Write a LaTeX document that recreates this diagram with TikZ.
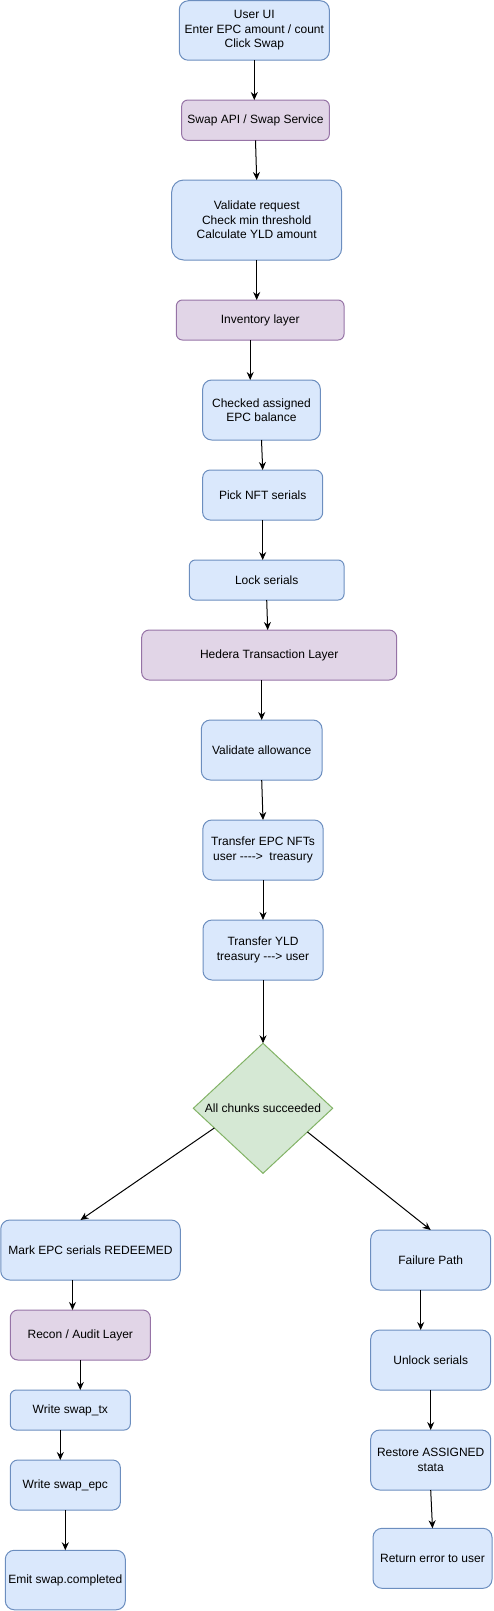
\documentclass[tikz,border=0pt]{standalone}
\usepackage{fontspec}
\setmainfont{Liberation Sans}[Ligatures=TeXOff]
\usetikzlibrary{shapes.geometric,arrows.meta}
\definecolor{bfill}{HTML}{DAE8FC}
\definecolor{bline}{HTML}{6C8EBF}
\definecolor{pfill}{HTML}{E1D5E7}
\definecolor{pline}{HTML}{9673A6}
\definecolor{gfill}{HTML}{D5E8D4}
\definecolor{gline}{HTML}{82B366}
\begin{document}
\begin{tikzpicture}[x=1pt,y=-1pt,
  base/.style={draw, line width=1pt, inner sep=0pt, outer sep=0pt, align=center,
    font=\fontsize{12}{14.4}\selectfont},
  bbox/.style={base, fill=bfill, draw=bline},
  pbox/.style={base, fill=pfill, draw=pline},
  dbox/.style={base, diamond, fill=gfill, draw=gline},
  arr/.style={-{Stealth[length=8pt,width=7pt]}, line width=1pt, draw=black}]
\useasboundingbox (0,0) rectangle (493,1611);

\node[bbox, minimum width=150pt, minimum height=59.5pt, rounded corners=9pt] (ui) at (254.3,30.5) {User UI\\Enter EPC amount / count\\Click Swap};
\node[pbox, minimum width=147.6pt, minimum height=40.3pt, rounded corners=6pt] (api) at (255.5,120.2) {Swap API / Swap Service};
\node[bbox, minimum width=170pt, minimum height=80pt, rounded corners=12pt] (val) at (256.7,220) {Validate request\\Check min threshold\\Calculate YLD amount};
\node[pbox, minimum width=167.7pt, minimum height=40pt, rounded corners=6pt] (inv) at (260.2,320) {Inventory layer};
\node[bbox, minimum width=117.6pt, minimum height=60pt, rounded corners=9pt] (chk) at (261.5,410) {Checked assigned\\EPC balance};
\node[bbox, minimum width=120pt, minimum height=50pt, rounded corners=7.5pt] (pick) at (262.7,495) {Pick NFT serials};
\node[bbox, minimum width=154.7pt, minimum height=40pt, rounded corners=6pt] (lock) at (266.7,580) {Lock serials};
\node[pbox, minimum width=255pt, minimum height=50pt, rounded corners=7.5pt] (hed) at (269.2,655) {Hedera Transaction Layer};
\node[bbox, minimum width=120.7pt, minimum height=60pt, rounded corners=9pt] (vall) at (261.7,750) {Validate allowance};
\node[bbox, minimum width=120.3pt, minimum height=60pt, rounded corners=9pt] (tepc) at (263,850) {Transfer EPC NFTs\\user ---->~ treasury};
\node[bbox, minimum width=120pt, minimum height=60pt, rounded corners=9pt] (tyld) at (263,950) {Transfer YLD\\treasury ---> user};
\node[dbox, minimum width=139.4pt, minimum height=130pt] (dec) at (263,1108.3) {All chunks succeeded};

\node[bbox, minimum width=179.5pt, minimum height=60pt, rounded corners=9pt] (mark) at (90.5,1250) {Mark EPC serials REDEEMED};
\node[pbox, minimum width=140pt, minimum height=50pt, rounded corners=7.5pt] (rec) at (80.3,1335) {Recon / Audit Layer};
\node[bbox, minimum width=120pt, minimum height=40pt, rounded corners=6pt] (wtx) at (70.3,1410) {Write swap\_tx};
\node[bbox, minimum width=110pt, minimum height=50pt, rounded corners=7.5pt] (wepc) at (65.3,1485) {Write swap\_epc};
\node[bbox, minimum width=120pt, minimum height=59.5pt, rounded corners=9pt] (emit) at (65.3,1580) {Emit swap.completed};

\node[bbox, minimum width=120pt, minimum height=60pt, rounded corners=9pt] (fail) at (430.7,1260) {Failure Path};
\node[bbox, minimum width=120pt, minimum height=60pt, rounded corners=9pt] (unl) at (430.7,1360) {Unlock serials};
\node[bbox, minimum width=120pt, minimum height=60pt, rounded corners=9pt] (rest) at (430.7,1460) {Restore ASSIGNED\\stata};
\node[bbox, minimum width=119pt, minimum height=60pt, rounded corners=9pt] (ret) at (432.5,1558.3) {Return error to user};

\draw[arr] (ui.south) -- (ui.south |- api.north);
\draw[arr] (api.south) -- (val.north);
\draw[arr] (val.south) -- (val.south |- inv.north);
\draw[arr] ([xshift=-10pt]inv.south) -- ([xshift=-10pt]inv.south |- chk.north);
\draw[arr] (chk.south) -- (pick.north);
\draw[arr] (pick.south) -- (pick.south |- lock.north);
\draw[arr] (lock.south) -- ([xshift=1pt]lock.south |- hed.north);
\draw[arr] (vall.north |- hed.south) -- (vall.north);
\draw[arr] (vall.south) -- (tepc.north);
\draw[arr] (tepc.south) -- (tyld.north);
\draw[arr] (tyld.south) -- (tyld.south |- dec.north);
\draw[arr] (dec.202) -- ([xshift=-10pt]mark.north);
\draw[arr] (dec.-28) -- (fail.north);
\draw[arr] ([xshift=-18pt]mark.south) -- ([xshift=-18pt]mark.south |- rec.north);
\draw[arr] (rec.south) -- (rec.south |- wtx.north);
\draw[arr] ([xshift=-10pt]wtx.south) -- ([xshift=-10pt]wtx.south |- wepc.north);
\draw[arr] (wepc.south) -- (wepc.south |- emit.north);
\draw[arr] ([xshift=-10pt]fail.south) -- ([xshift=-10pt]fail.south |- unl.north);
\draw[arr] (unl.south) -- (unl.south |- rest.north);
\draw[arr] (rest.south) -- (ret.north);
\end{tikzpicture}
\end{document}
